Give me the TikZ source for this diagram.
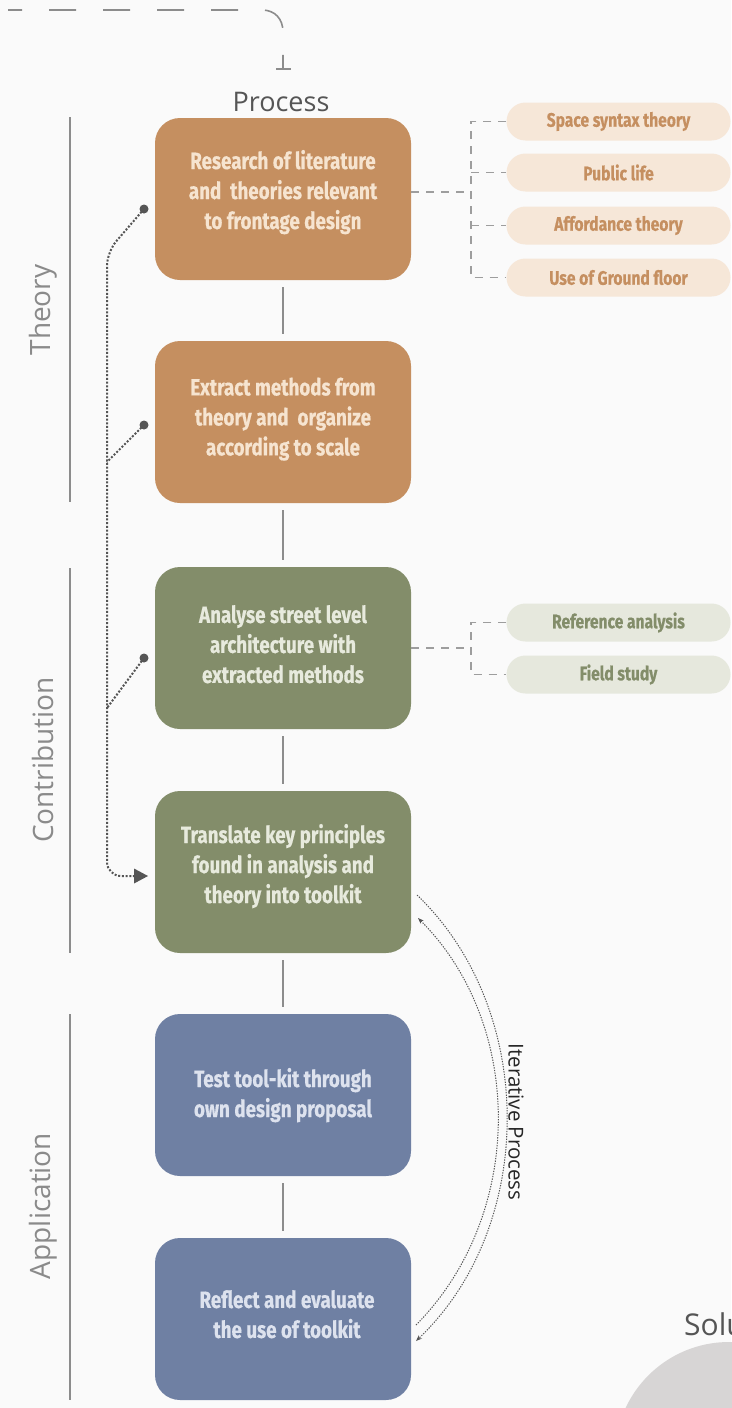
\documentclass[tikz,border=0pt]{standalone}
\usepackage{fontspec}
\setmainfont{Open Sans}
\newfontfamily\condfont[FakeStretch=0.8, BoldFeatures={FakeBold=0.5}]{Fira Sans}
\usetikzlibrary{arrows.meta}
\definecolor{bgc}{HTML}{FAFAFA}
\definecolor{brownc}{HTML}{C58F60}
\definecolor{greenc}{HTML}{838D6A}
\definecolor{bluec}{HTML}{6F80A3}
\definecolor{browntxt}{HTML}{F6E4D0}
\definecolor{greentxt}{HTML}{E7EADD}
\definecolor{bluetxt}{HTML}{DDE2EE}
\definecolor{pillbrown}{HTML}{F6E7D8}
\definecolor{pillgreen}{HTML}{E6E8DD}
\definecolor{linec}{HTML}{8C8C8C}
\definecolor{labelc}{HTML}{8A8A8A}
\definecolor{dotc}{HTML}{555555}
\definecolor{circc}{HTML}{D7D5D5}
\begin{document}
\begin{tikzpicture}[x=1pt,y=-1pt,
  box/.style={rounded corners=25pt, minimum width=256pt, minimum height=162pt,
    align=center, inner sep=0pt, font=\condfont\bfseries\fontsize{23.5}{30}\selectfont},
  brownbox/.style={box, fill=brownc, text=browntxt},
  greenbox/.style={box, fill=greenc, text=greentxt},
  bluebox/.style={box, fill=bluec, text=bluetxt},
  pill/.style={rounded corners=19pt, minimum width=224pt, minimum height=38pt,
    inner sep=0pt, font=\condfont\bfseries\fontsize{19.5}{21}\selectfont},
  brownpill/.style={pill, fill=pillbrown, text=brownc},
  greenpill/.style={pill, fill=pillgreen, text=greenc},
  link/.style={draw=linec, line width=1.5pt, shorten <=7pt, shorten >=7pt},
  secline/.style={draw=linec, line width=1.2pt},
  seclabel/.style={text=labelc, font=\fontsize{28}{30}\selectfont, rotate=90},
  dashlink/.style={draw=linec!85, line width=1.2pt, dash pattern=on 8pt off 7pt},
  dotlink/.style={draw=dotc, line width=2pt, dash pattern=on 2pt off 1.7pt},
  iterlink/.style={draw=dotc, line width=1pt, dash pattern=on 1.3pt off 1.3pt,
    -{Stealth[length=6pt,width=4.5pt]}},
  topdash/.style={draw=linec, line width=1.6pt, dash pattern=on 27pt off 27pt,
    dash phase=13pt, -{Bar[width=15pt]}}
]
\fill[bgc] (0,0) rectangle (731,1408);
\useasboundingbox (0,0) rectangle (731,1408);

% bottom-right partial circle and text
\fill[circc] (729,1456) circle (114pt);
\node[anchor=base west, text=dotc, font=\fontsize{30}{32}\selectfont, inner sep=0pt] (solu) at (684,1335) {Solution};

% top dashed connector
\node[text=dotc, font=\fontsize{27}{30}\selectfont, inner sep=0pt] (proc) at (281,102) {Process};
\coordinate (procin) at (283,70);
\draw[topdash] (8,10) -- (262,10) .. controls (275,10) and (283,19) .. (283,32) -- (procin);

% section lines and labels
\draw[secline] (70,117) -- (70,502);
\draw[secline] (70,568) -- (70,953);
\draw[secline] (70,1014) -- (70,1400);
\node[seclabel] (lt) at (43,310) {Theory};
\node[seclabel] (lc) at (43,760) {Contribution};
\node[seclabel] (la) at (43,1206) {Application};

% boxes
\node[brownbox, text depth=19pt] (b1) at (283,199) {Research of literature\\and~ theories relevant\\to frontage design};
\node[brownbox, text depth=11pt] (b2) at (283,422) {Extract methods from\\theory and~ organize\\according to scale};
\node[greenbox, text depth=8pt] (b3) at (283,648) {Analyse street level\\architecture with\\extracted methods};
\node[greenbox, text depth=17pt] (b4) at (283,872) {Translate key principles\\found in analysis and\\theory into toolkit};
\node[bluebox, text depth=5pt] (b5) at (283,1095) {Test tool-kit through\\own design proposal};
\node[bluebox, text depth=10pt] (b6) at (283,1319) {\hspace*{8pt}Reflect and evaluate\\\hspace*{8pt}the use of toolkit};

\draw[link] (b1) -- (b2);
\draw[link] (b2) -- (b3);
\draw[link] (b3) -- (b4);
\draw[link] (b4) -- (b5);
\draw[link] (b5) -- (b6);

% pills
\node[brownpill] (p1) at (618.5,121.5) {Space syntax theory};
\node[brownpill] (p2) at (618.5,172.5) {Public life};
\node[brownpill] (p3) at (618.5,225.5) {Affordance theory};
\node[brownpill] (p4) at (618.5,277.5) {Use of Ground floor};
\node[greenpill] (g1) at (618.5,622.5) {Reference analysis};
\node[greenpill] (g2) at (618.5,674.5) {Field study};

\coordinate (j1) at (471,192);
\draw[dashlink] (b1.east |- j1) -- (j1);
\draw[dashlink] (p1.west) -- (p1.west -| j1) -- (p4.west -| j1) -- (p4.west);
\draw[dashlink] (p2.west -| j1) -- (p2.west);
\draw[dashlink] (p3.west -| j1) -- (p3.west);

\coordinate (j2) at (471,648);
\draw[dashlink] (b3.east |- j2) -- (j2);
\draw[dashlink] (g1.west) -- (g1.west -| j2) -- (g2.west -| j2) -- (g2.west);

% dotted feedback connectors
\coordinate (d1) at (144,209);
\coordinate (d2) at (144,425);
\coordinate (d3) at (144,658);
\coordinate (a4) at (148,876);
\draw[dotlink, rounded corners=14pt] (d1) -- (107,252) -- (107,876) -- (136,876);
\draw[dotlink] (d2) -- (107,462);
\draw[dotlink] (d3) -- (107,708);
\fill[dotc] (d1) circle (4.5pt);
\fill[dotc] (d2) circle (4.5pt);
\fill[dotc] (d3) circle (4.5pt);
\fill[dotc] (a4) -- (134,868.5) -- (134,883.5) -- cycle;

% iterative process
\coordinate (it1) at (417,895);
\coordinate (it2) at (416,1341);
\coordinate (it3) at (416,1325);
\coordinate (it4) at (418,918);
\draw[iterlink] (it1) .. controls (537,1010) and (537,1226) .. (it2);
\draw[iterlink] (it3) .. controls (525,1215) and (525,1025) .. (it4);
\node[rotate=-90, text=black!85, font=\fontsize{20.5}{22}\selectfont, inner sep=0pt] (itl) at (516,1122) {Iterative Process};
\end{tikzpicture}
\end{document}
